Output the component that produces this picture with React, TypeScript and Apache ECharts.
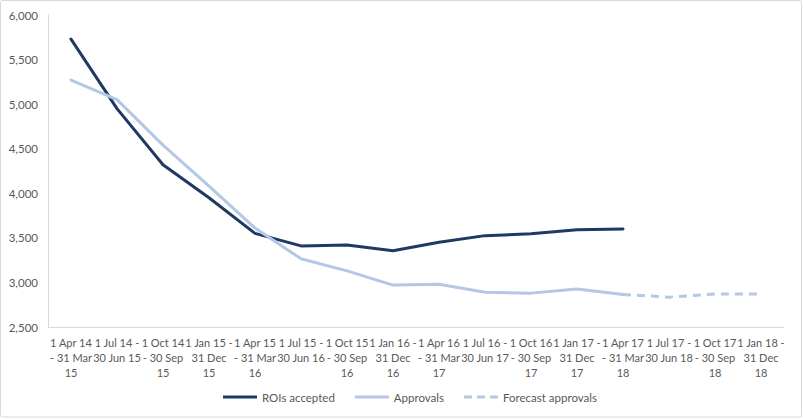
import React, { useEffect, useRef } from "react";
import * as echarts from "echarts";

const categories = [
  "1 Apr 14 - 31 Mar 15",
  "1 Jul 14 - 30 Jun 15",
  "1 Oct 14 - 30 Sep 15",
  "1 Jan 15 - 31 Dec 15",
  "1 Apr 15 - 31 Mar 16",
  "1 Jul 15 - 30 Jun 16",
  "1 Oct 15 - 30 Sep 16",
  "1 Jan 16 - 31 Dec 16",
  "1 Apr 16 - 31 Mar 17",
  "1 Jul 16 - 30 Jun 17",
  "1 Oct 16 - 30 Sep 17",
  "1 Jan 17 - 31 Dec 17",
  "1 Apr 17 - 31 Mar 18",
  "1 Jul 17 - 30 Jun 18",
  "1 Oct 17 - 30 Sep 18",
  "1 Jan 18 - 31 Dec 18",
];

const roisAccepted = [5730, 4950, 4320, 3950, 3550, 3410, 3420, 3355, 3450, 3525, 3545, 3590, 3600, null, null, null];
const approvals = [5270, 5050, 4540, 4080, 3610, 3265, 3130, 2970, 2980, 2890, 2880, 2925, 2865, null, null, null];
const forecastApprovals = [null, null, null, null, null, null, null, null, null, null, null, null, 2865, 2835, 2870, 2870];

const yTicks = { min: 2500, max: 6000, interval: 500 };

const FONT = "Lato, 'Open Sans', sans-serif";

function wrapLabel(s: string): string {
  const [a, b] = s.split(" - ");
  if (a.includes("Jul")) {
    return a + " -\n" + b;
  }
  const parts = b.split(" ");
  const year = parts.pop();
  if (a.includes("Jan")) {
    return a + " -\n" + parts.join(" ") + "\n" + year;
  }
  return a + "\n- " + parts.join(" ") + "\n" + year;
}

const DARK = "#203864";
const LIGHT = "#B4C7E7";

export default function App() {
  const ref = useRef<HTMLDivElement>(null);
  useEffect(() => {
    if (!ref.current) return;
    const chart = echarts.init(ref.current, undefined, { renderer: "svg" });
    chart.setOption({
      animation: false,
      backgroundColor: "#ffffff",
      textStyle: { fontFamily: FONT },
      graphic: [
        {
          type: "rect",
          shape: { x: 0.5, y: 0.5, width: 801, height: 416.5, r: 2 },
          style: { fill: "none", stroke: "#D9D9D9", lineWidth: 1 },
          silent: true,
        },
      ],
      grid: { left: 48, right: 19, top: 15, bottom: 92, containLabel: false },
      xAxis: {
        type: "category",
        data: categories,
        boundaryGap: true,
        axisLine: { show: true, lineStyle: { color: "#D9D9D9", width: 1 } },
        axisTick: { show: false },
        axisLabel: {
          interval: 0,
          color: "#595959",
          fontSize: 11,
          fontFamily: FONT,
          lineHeight: 15,
          margin: 8,
          formatter: (v: string) => wrapLabel(v),
        },
        splitLine: { show: false },
      },
      yAxis: {
        type: "value",
        min: yTicks.min,
        max: yTicks.max,
        interval: yTicks.interval,
        axisLine: { show: true, lineStyle: { color: "#D9D9D9", width: 1 } },
        axisTick: { show: false },
        splitLine: { show: false },
        axisLabel: {
          color: "#595959",
          fontSize: 11.5,
          fontFamily: FONT,
          margin: 10,
          formatter: (v: number) => v.toLocaleString("en-US"),
        },
      },
      legend: {
        bottom: 11,
        left: 218,
        itemWidth: 34,
        itemHeight: 3,
        itemGap: 20,
        textStyle: { color: "#595959", fontSize: 11.5, fontFamily: FONT },
        data: [
          { name: "ROIs accepted", icon: "rect" },
          { name: "Approvals", icon: "rect" },
          {
            name: "Forecast approvals",
            icon: "path://M0,0h8v3h-8z M13,0h8v3h-8z M26,0h8v3h-8z",
          },
        ],
      },
      series: [
        {
          name: "ROIs accepted",
          type: "line",
          data: roisAccepted,
          symbol: "none",
          lineStyle: { color: DARK, width: 3, cap: "round", join: "round" },
          itemStyle: { color: DARK },
        },
        {
          name: "Approvals",
          type: "line",
          data: approvals,
          symbol: "none",
          lineStyle: { color: LIGHT, width: 3, cap: "round", join: "round" },
          itemStyle: { color: LIGHT },
        },
        {
          name: "Forecast approvals",
          type: "line",
          data: forecastApprovals,
          symbol: "none",
          lineStyle: { color: LIGHT, width: 3, type: [8, 6] },
          itemStyle: { color: LIGHT },
        },
      ],
    });
    return () => chart.dispose();
  }, []);
  return (
    <div
      ref={ref}
      style={{ position: "absolute", left: 0, top: 0, width: 803, height: 419 }}
    />
  );
}
